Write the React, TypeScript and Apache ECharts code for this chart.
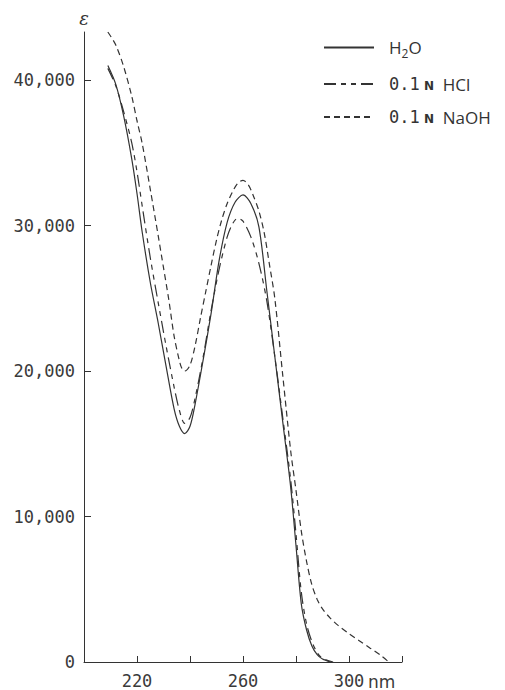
import React, { useEffect, useRef } from "react";
import * as echarts from "echarts";

const h2oNm = [209, 212, 215, 218, 220, 222, 225, 228, 231, 234, 236, 238, 240, 242, 245, 248, 251, 254, 257, 260, 263, 266, 269, 272, 275, 278, 280, 282, 284, 286, 288, 290, 293];
const h2oEps = [41000, 39700, 37500, 34600, 32200, 29500, 26100, 23300, 20300, 17400, 16200, 15700, 16200, 17800, 20800, 24000, 27600, 30200, 31600, 32100, 31500, 29900, 25500, 21000, 16500, 12000, 8000, 4000, 2200, 1100, 500, 200, 0];

const hclNm = [209, 212, 215, 218, 220, 222, 225, 228, 231, 234, 236, 238, 240, 242, 245, 248, 251, 254, 256, 258, 260, 263, 266, 269, 272, 275, 278, 280, 282, 284, 286, 288, 290, 294];
const hclEps = [40800, 39600, 37800, 35700, 33700, 31300, 27800, 24700, 21700, 18900, 17300, 16400, 16800, 18200, 21000, 24200, 27000, 29200, 30100, 30500, 30300, 29200, 27400, 24800, 21000, 16800, 12500, 8800, 4800, 2600, 1400, 650, 250, 0];

const naohNm = [209, 212, 215, 218, 220, 222, 225, 228, 230, 232, 234, 236, 237, 238, 240, 242, 244, 246, 248, 250, 252, 254, 256, 258, 260, 262, 264, 266, 268, 270, 272, 275, 278, 280, 282, 284, 286, 288, 290, 293, 296, 300, 304, 308, 312, 315];
const naohEps = [43300, 42400, 40900, 38900, 37200, 35600, 32500, 29300, 27100, 24900, 22400, 20700, 20150, 20000, 20400, 21800, 23700, 25500, 27300, 29000, 30400, 31500, 32300, 32900, 33100, 32800, 32000, 31000, 29500, 27300, 25000, 19700, 14500, 11800, 9000, 6900, 5300, 4300, 3650, 3000, 2500, 1950, 1450, 950, 450, 0];

const yTicks = [0, 10000, 20000, 30000, 40000];
const xTicks = [220, 240, 260, 280, 300, 320];
const xLabels = [220, 260, 300];

const names = ["H2O", "HCl", "NaOH"];

const zip = (a: number[], b: number[]) => a.map((v, i) => [v, b[i]]);

export default function App() {
  const ref = useRef<HTMLDivElement>(null);
  useEffect(() => {
    if (!ref.current) return;
    const chart = echarts.init(ref.current, null, { renderer: "svg" });
    const ink = "#333";
    const labelFont = "DejaVu Sans Mono";
    chart.setOption({
      animation: false,
      backgroundColor: "#fff",
      grid: { left: 84, right: 103, top: 32, bottom: 28 },
      legend: {
        orient: "vertical",
        left: 318,
        top: 34,
        itemWidth: 50,
        itemHeight: 20,
        itemGap: 16,
        data: names,
        itemStyle: { opacity: 0 },
        formatter: (n: string) =>
          n === "H2O"
            ? "{s|H}{sub|2}{s|O}"
            : n === "HCl"
            ? "{m|0.1}{n| N}{s|  HCl}"
            : "{m|0.1}{n| N}{s|  NaOH}",
        textStyle: {
          color: ink,
          fontSize: 17,
          padding: [0, 0, 0, 10],
          rich: {
            s: { fontFamily: "Open Sans", fontSize: 17, color: ink },
            sub: { fontFamily: "Open Sans", fontSize: 12, color: ink, padding: [12, 0, 0, 0] },
            m: { fontFamily: labelFont, fontSize: 17, color: ink },
            n: { fontFamily: "DejaVu Sans", fontSize: 12, fontWeight: "bold", color: ink, padding: [4, 0, 0, 0] },
          },
        },
      },
      xAxis: {
        type: "value",
        min: 200,
        max: 320,
        interval: 20,
        axisLine: { lineStyle: { color: ink, width: 1 } },
        axisTick: { inside: true, length: 6, customValues: xTicks, lineStyle: { color: ink } },
        axisLabel: {
          customValues: xLabels,
          color: "#3a3a3a",
          fontFamily: labelFont,
          fontSize: 17,
          margin: 10,
        },
        splitLine: { show: false },
      },
      yAxis: {
        type: "value",
        min: 0,
        max: 43300,
        interval: 10000,
        name: "ε",
        nameLocation: "end",
        nameGap: 5,
        nameTextStyle: { fontStyle: "italic", fontSize: 18, color: ink, fontFamily: "DejaVu Serif" },
        axisLine: { lineStyle: { color: ink, width: 1 } },
        axisTick: { inside: true, length: 7, customValues: yTicks, lineStyle: { color: ink } },
        axisLabel: {
          customValues: yTicks,
          color: "#3a3a3a",
          fontFamily: labelFont,
          fontSize: 17,
          margin: 9,
          formatter: (v: number) => (v === 0 ? "0" : v.toLocaleString("en-US")),
        },
        splitLine: { show: false },
      },
      graphic: [
        {
          type: "text",
          left: 368,
          top: 673,
          style: { text: "nm", fill: "#3a3a3a", font: "17px 'DejaVu Sans'" },
        },
      ],
      series: [
        {
          name: "H2O",
          type: "line",
          data: zip(h2oNm, h2oEps),
          symbol: "none",
          smooth: 0.3,
          lineStyle: { color: ink, width: 1.2, type: "solid" },
          itemStyle: { color: ink },
        },
        {
          name: "HCl",
          type: "line",
          data: zip(hclNm, hclEps),
          symbol: "none",
          smooth: 0.3,
          lineStyle: { color: ink, width: 1.2, type: [12, 5, 5, 5, 5, 5] },
          itemStyle: { color: ink },
        },
        {
          name: "NaOH",
          type: "line",
          data: zip(naohNm, naohEps),
          symbol: "none",
          smooth: 0.3,
          lineStyle: { color: ink, width: 1.2, type: [6, 4] },
          itemStyle: { color: ink },
        },
      ],
    });
    return () => chart.dispose();
  }, []);
  return (
    <div
      ref={ref}
      style={{ position: "fixed", left: 0, top: 0, width: 505, height: 690 }}
    />
  );
}
